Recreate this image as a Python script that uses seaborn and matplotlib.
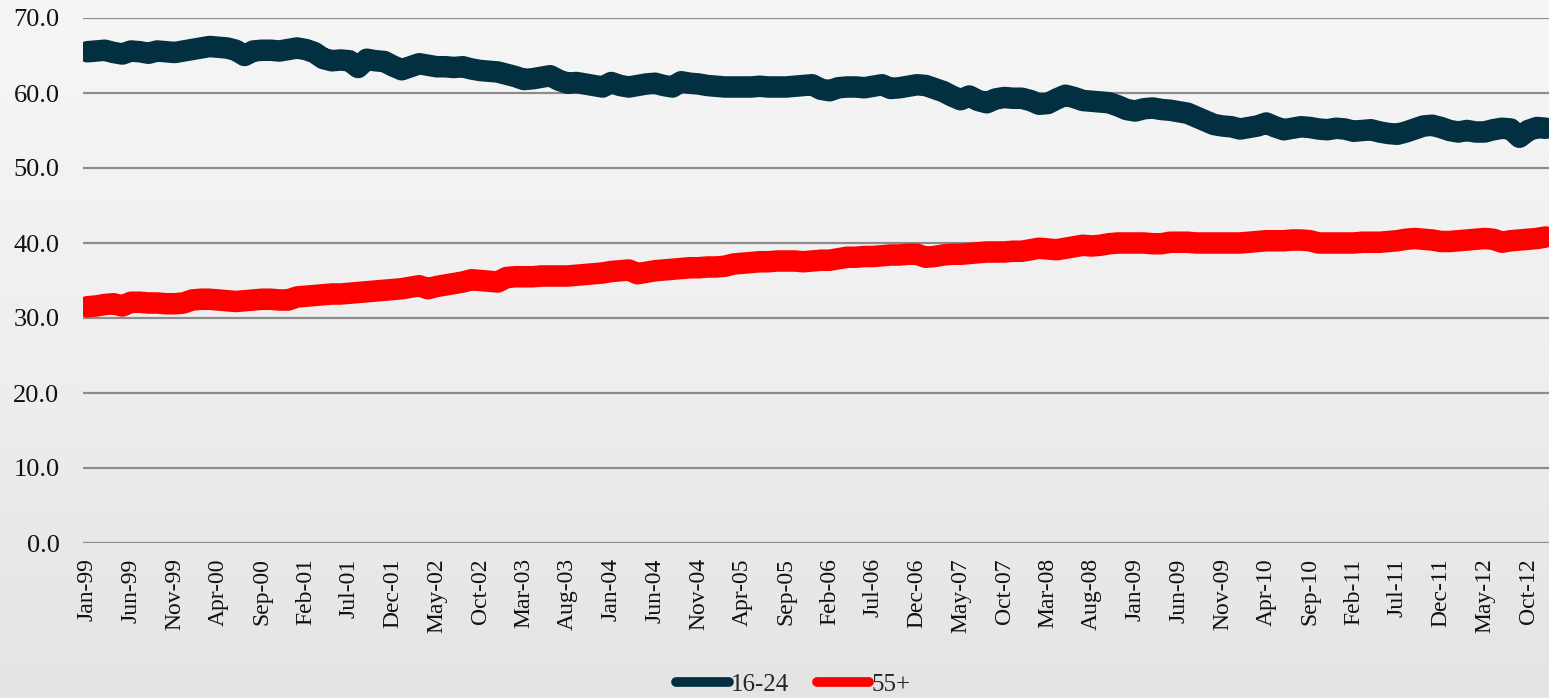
import numpy as np
import pandas as pd
import matplotlib
matplotlib.use("Agg")
import matplotlib.pyplot as plt
from matplotlib.lines import Line2D
from matplotlib.colors import LinearSegmentedColormap
import seaborn as sns

# ---------------- data ----------------
months = pd.date_range("1999-01-01", "2012-12-01", freq="MS")
month_labels = [d.strftime("%b-%y") for d in months]

age_16_24 = [
    65.5, 65.6, 65.7, 65.4, 65.2, 65.6, 65.5, 65.3, 65.6, 65.5, 65.4, 65.6,   # 1999
    65.8, 66.0, 66.2, 66.1, 66.0, 65.7, 65.0, 65.6, 65.7, 65.7, 65.6, 65.8,   # 2000
    66.0, 65.8, 65.4, 64.6, 64.3, 64.4, 64.3, 63.4, 64.5, 64.3, 64.2, 63.6,   # 2001
    63.1, 63.5, 63.9, 63.7, 63.5, 63.5, 63.4, 63.5, 63.2, 63.0, 62.9, 62.8,   # 2002
    62.5, 62.2, 61.8, 61.9, 62.1, 62.3, 61.7, 61.3, 61.4, 61.2, 61.0, 60.8,   # 2003
    61.4, 61.0, 60.8, 61.0, 61.2, 61.3, 61.0, 60.8, 61.5, 61.3, 61.2, 61.0,   # 2004
    60.9, 60.8, 60.8, 60.8, 60.8, 60.9, 60.8, 60.8, 60.8, 60.9, 61.0, 61.1,   # 2005
    60.5, 60.3, 60.7, 60.8, 60.8, 60.7, 60.9, 61.1, 60.6, 60.7, 60.9, 61.1,   # 2006
    61.0, 60.6, 60.2, 59.6, 59.1, 59.6, 59.0, 58.7, 59.2, 59.4, 59.3, 59.3,   # 2007
    59.0, 58.5, 58.6, 59.2, 59.7, 59.4, 59.0, 58.9, 58.8, 58.7, 58.3, 57.8,   # 2008
    57.6, 57.9, 58.0, 57.8, 57.7, 57.5, 57.3, 56.8, 56.3, 55.8, 55.6, 55.5,   # 2009
    55.2, 55.4, 55.6, 56.0, 55.5, 55.1, 55.3, 55.5, 55.4, 55.2, 55.1, 55.3,   # 2010
    55.2, 54.9, 55.0, 55.1, 54.8, 54.6, 54.5, 54.8, 55.2, 55.6, 55.7, 55.4,   # 2011
    55.0, 54.8, 55.0, 54.8, 54.8, 55.1, 55.3, 55.2, 54.1, 55.0, 55.4, 55.3,   # 2012
]

age_55_plus = [
    31.5, 31.6, 31.8, 31.9, 31.6, 32.1, 32.1, 32.0, 32.0, 31.9, 31.9, 32.0,   # 1999
    32.4, 32.5, 32.5, 32.4, 32.3, 32.2, 32.3, 32.4, 32.5, 32.5, 32.4, 32.4,   # 2000
    32.8, 32.9, 33.0, 33.1, 33.2, 33.2, 33.3, 33.4, 33.5, 33.6, 33.7, 33.8,   # 2001
    33.9, 34.1, 34.3, 33.9, 34.2, 34.4, 34.6, 34.8, 35.1, 35.0, 34.9, 34.8,   # 2002
    35.4, 35.5, 35.5, 35.5, 35.6, 35.6, 35.6, 35.6, 35.7, 35.8, 35.9, 36.0,   # 2003
    36.2, 36.3, 36.4, 35.9, 36.1, 36.3, 36.4, 36.5, 36.6, 36.7, 36.7, 36.8,   # 2004
    36.8, 36.9, 37.2, 37.3, 37.4, 37.5, 37.5, 37.6, 37.6, 37.6, 37.5, 37.6,   # 2005
    37.7, 37.7, 37.9, 38.1, 38.1, 38.2, 38.2, 38.3, 38.4, 38.4, 38.5, 38.5,   # 2006
    38.1, 38.2, 38.4, 38.5, 38.5, 38.6, 38.7, 38.8, 38.8, 38.8, 38.9, 38.9,   # 2007
    39.1, 39.3, 39.2, 39.1, 39.3, 39.5, 39.7, 39.6, 39.7, 39.9, 40.0, 40.0,   # 2008
    40.0, 40.0, 39.9, 39.9, 40.1, 40.1, 40.1, 40.0, 40.0, 40.0, 40.0, 40.0,   # 2009
    40.0, 40.1, 40.2, 40.3, 40.3, 40.3, 40.4, 40.4, 40.3, 40.0, 40.0, 40.0,   # 2010
    40.0, 40.0, 40.1, 40.1, 40.1, 40.2, 40.3, 40.5, 40.6, 40.5, 40.4, 40.2,   # 2011
    40.2, 40.3, 40.4, 40.5, 40.6, 40.5, 40.1, 40.3, 40.4, 40.5, 40.6, 40.8,   # 2012
]

series_names = ["16-24", "55+"]
series_colors = ["#033040", "#ff0000"]
y_ticks = [0, 10, 20, 30, 40, 50, 60, 70]

# ---------------- build frame ----------------
n = len(months)
df = pd.DataFrame({
    "idx": list(range(n)) * 2,
    "value": age_16_24 + age_55_plus,
    "series": [series_names[0]] * n + [series_names[1]] * n,
})

# ---------------- style ----------------
sns.set_theme(style="white")
plt.rcParams["font.family"] = ["Liberation Serif", "DejaVu Serif"]

W, H = 1549, 698
fig = plt.figure(figsize=(W / 100, H / 100), dpi=100)

# paper-like background gradient
bg = fig.add_axes([0, 0, 1, 1], zorder=-10)
grad = np.linspace(0, 1, 256).reshape(-1, 1)
cmap = LinearSegmentedColormap.from_list("paper", ["#f6f6f6", "#efefef", "#e4e4e4"])
bg.imshow(grad, aspect="auto", cmap=cmap, extent=[0, 1, 0, 1], origin="upper")
bg.axis("off")

ax = fig.add_axes([83 / W, (H - 543) / H, 1467 / W, 525 / H])
ax.set_facecolor("none")

sns.lineplot(data=df, x="idx", y="value", hue="series", palette=series_colors,
             linewidth=15.5, ax=ax, legend=False, estimator=None)
for ln in ax.lines:
    ln.set_solid_capstyle("round")
    ln.set_solid_joinstyle("round")

ax.set_xlim(-0.5, n - 0.5)
ax.set_ylim(0, 70)
ax.set_yticks(y_ticks)
ax.set_yticklabels([f"{v:.1f}" for v in y_ticks])
tick_pos = list(range(0, n, 5))
ax.set_xticks(tick_pos)
ax.set_xticklabels([month_labels[i] for i in tick_pos], rotation=90)
ax.tick_params(axis="y", length=0, pad=17, labelsize=19, colors="#111111")
ax.tick_params(axis="x", length=0, pad=11, labelsize=17, colors="#111111")
ax.set_xlabel("")
ax.set_ylabel("")
ax.grid(axis="y", color="#8c8c8c", linewidth=1.6)
ax.grid(axis="x", visible=False)
ax.set_axisbelow(True)
for s in ax.spines.values():
    s.set_visible(False)

handles = [Line2D([0], [0], color=c, lw=7, solid_capstyle="round") for c in series_colors]
fig.legend(handles, series_names, loc="lower center", bbox_to_anchor=(793.5 / W, -0.022),
           ncol=2, frameon=False, fontsize=18, handlelength=2.1, handletextpad=0.1,
           columnspacing=1.08, borderpad=0.2)

fig.savefig("out.png", dpi=100)
